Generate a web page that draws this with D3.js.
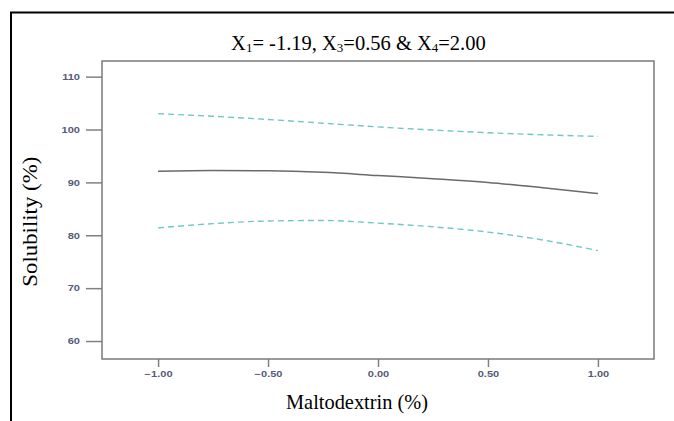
<!DOCTYPE html>
<html>
<head>
<meta charset="utf-8">
<script src="https://cdn.jsdelivr.net/npm/d3@7"></script>
<style>
  body { margin: 0; background: #fff; }
  svg { display: block; }
</style>
</head>
<body>
<div id="chart"></div>
<script>
// values
var xValues = [-1, -0.75, -0.5, -0.25, 0, 0.25, 0.5, 0.75, 1];
var predicted = [92.1, 92.25, 92.2, 91.9, 91.3, 90.7, 90.0, 89.0, 87.9];
var upperBand = [103.0, 102.5, 101.9, 101.2, 100.5, 99.9, 99.4, 99.0, 98.7];
var lowerBand = [81.4, 82.2, 82.7, 82.8, 82.3, 81.6, 80.6, 79.1, 77.1];
var xTicks = [-1, -0.5, 0, 0.5, 1];
var yTicks = [60, 70, 80, 90, 100, 110];

var W = 674, H = 421;
var margin = { top: 61, right: 20, bottom: 62, left: 102 };
var width = W - margin.left - margin.right;
var height = H - margin.top - margin.bottom;

var svg = d3.select("#chart").append("svg")
    .attr("width", W)
    .attr("height", H);

// outer black frame (cut off at right and bottom)
svg.append("rect")
    .attr("x", 11).attr("y", 12.5)
    .attr("width", W + 20).attr("height", H + 20)
    .attr("fill", "none")
    .attr("stroke", "#000")
    .attr("stroke-width", 2);

var g = svg.append("g")
    .attr("transform", "translate(" + margin.left + "," + margin.top + ")");

var x = d3.scaleLinear().domain([-1.255, 1.255]).range([0, width]);
var y = d3.scaleLinear().domain([56.6, 112.96]).range([height, 0]);

// x axis
var xAxis = g.append("g")
    .attr("transform", "translate(0," + height + ")")
    .call(d3.axisBottom(x).tickValues(xTicks).tickFormat(d3.format(".2f")).tickSize(8).tickPadding(4).tickSizeOuter(0));

// y axis (ticks outside the box, with a gap)
var yAxis = g.append("g")
    .call(d3.axisLeft(y).tickValues(yTicks).tickSize(16).tickSizeOuter(0).tickPadding(6));

[xAxis, yAxis].forEach(function (ax) {
    ax.select(".domain").remove();
    ax.selectAll(".tick line").attr("stroke", "#808080").attr("stroke-width", 1.5);
    ax.selectAll(".tick text")
        .attr("fill", "#565b78")
        .style("font-family", "Liberation Sans, Arial, sans-serif")
        .style("font-weight", "bold")
        .style("font-size", "8.5px")
        .each(function () {
            var len = this.getComputedTextLength();
            d3.select(this).attr("textLength", len * 1.3).attr("lengthAdjust", "spacingAndGlyphs");
        });
});

// plot box
g.append("rect")
    .attr("width", width).attr("height", height)
    .attr("fill", "none")
    .attr("stroke", "#7a7a7a")
    .attr("stroke-width", 1.5);

var line = function (vals) {
    return d3.line()
        .x(function (d, i) { return x(xValues[i]); })
        .y(function (d) { return y(d); })
        .curve(d3.curveMonotoneX)(vals);
};

g.append("path")
    .attr("d", line(upperBand))
    .attr("fill", "none")
    .attr("stroke", "#72c6c8")
    .attr("stroke-width", 1.4)
    .attr("stroke-dasharray", "6,4");

g.append("path")
    .attr("d", line(lowerBand))
    .attr("fill", "none")
    .attr("stroke", "#72c6c8")
    .attr("stroke-width", 1.4)
    .attr("stroke-dasharray", "6,4");

g.append("path")
    .attr("d", line(predicted))
    .attr("fill", "none")
    .attr("stroke", "#6a6a6a")
    .attr("stroke-width", 1.5);

// title with subscripts
var title = svg.append("text")
    .attr("x", 358.4).attr("y", 50)
    .attr("text-anchor", "middle")
    .style("font-family", "Liberation Serif, Times New Roman, serif")
    .style("font-size", "20.5px")
    .attr("fill", "#000");
var parts = [["X", false], ["1", true], ["= -1.19, X", false], ["3", true], ["=0.56 & X", false], ["4", true], ["=2.00", false]];
parts.forEach(function (p, i) {
    var t = title.append("tspan").text(p[0]);
    if (p[1]) t.style("font-size", "13px").attr("dy", 2);
    else if (i > 0) t.attr("dy", -2);
});

// axis titles
svg.append("text")
    .attr("x", 357).attr("y", 409)
    .attr("text-anchor", "middle")
    .style("font-family", "Liberation Serif, Times New Roman, serif")
    .style("font-size", "21px")
    .attr("textLength", 142).attr("lengthAdjust", "spacingAndGlyphs")
    .text("Maltodextrin (%)");

svg.append("text")
    .attr("transform", "translate(37,221.7) rotate(-90)")
    .attr("text-anchor", "middle")
    .style("font-family", "Liberation Serif, Times New Roman, serif")
    .style("font-size", "22px")
    .attr("textLength", 130).attr("lengthAdjust", "spacingAndGlyphs")
    .text("Solubility (%)");
</script>
</body>
</html>
